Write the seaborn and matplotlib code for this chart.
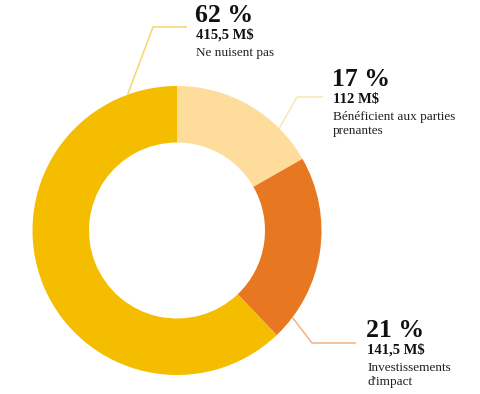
#! /usr/bin/env python3
# -*- coding: utf-8 -*-

import numpy as np
import matplotlib
matplotlib.use('Agg')
import matplotlib.pyplot as plt
import seaborn as sns

## données - - - - - - - - - - - - - - - - - - - - - - - - - - - - - -#
categories = ['Bénéficient aux parties\nprenantes',
              "Investissements\nd'impact",
              'Ne nuisent pas']
montants = [112, 141.5, 415.5]
pourcentages = ['17 %', '21 %', '62 %']
montants_txt = ['112 M$', '141,5 M$', '415,5 M$']

couleurs = ['#FDDC9C', '#E87722', '#F5BD00']
couleurs_lignes = ['#FDE5B5', '#F4B184', '#F8D66A']

## mise en page (pixels, y vers le bas) - - - - - - - - - - - - - - -#
centre = (177, 230.5)
rayon = 144.5
epaisseur = 56.5
## angle d'ancrage, coude, fin de la ligne, position du texte
ancrages = [45, -37, 110]
coudes = [(297, 97), (312, 343), (153, 27)]
fins = [(323, 97), (356, 343), (187, 27)]
textes_xy = [(332, 86), (366, 337), (195, 21.5)]

sns.set_style('white')
plt.rcParams['font.family'] = ['Liberation Serif', 'DejaVu Serif']

fig = plt.figure(figsize=(4.8, 3.94), dpi=100)
ax = fig.add_axes([0, 0, 1, 1])

H = 394
ax.pie(montants,
       colors=couleurs,
       startangle=90,
       counterclock=False,
       radius=rayon,
       center=(centre[0], H - centre[1]),
       wedgeprops=dict(width=epaisseur, linewidth=0))

for i in range(len(categories)):
    a = np.deg2rad(ancrages[i])
    x0 = centre[0] + rayon * np.cos(a)
    y0 = (H - centre[1]) + rayon * np.sin(a)
    xs = [x0, coudes[i][0], fins[i][0]]
    ys = [y0, H - coudes[i][1], H - fins[i][1]]
    ax.plot(xs, ys, color=couleurs_lignes[i], lw=1.1, solid_capstyle='butt')

    tx, ty = textes_xy[i]
    ax.text(tx, H - ty, pourcentages[i], fontsize=18.5, fontweight='bold',
            ha='left', va='baseline', color='#111111')
    ax.text(tx + 1, H - ty - 17, montants_txt[i], fontsize=10.5,
            fontweight='bold', ha='left', va='baseline', color='#111111')
    ## chaque ligne de la catégorie est placée séparément
    for j, ligne in enumerate(categories[i].split('\n')):
        ax.text(tx + 1, H - ty - 34 - 14 * j, ligne, fontsize=9.5,
                ha='left', va='baseline', color='#222222')

ax.set_xlim(0, 480)
ax.set_ylim(0, H)
ax.set_aspect('equal')
ax.axis('off')

fig.savefig('out.png', dpi=100)
